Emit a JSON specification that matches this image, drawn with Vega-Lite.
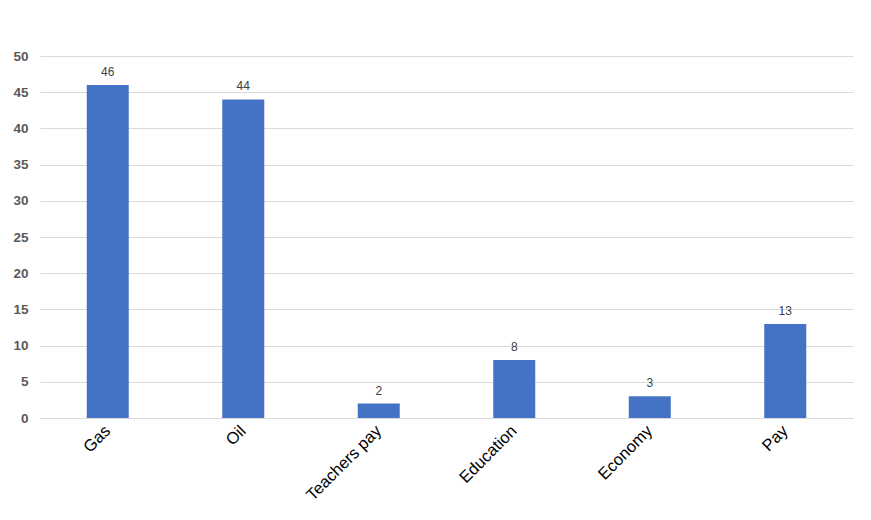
{
  "$schema": "https://vega.github.io/schema/vega-lite/v6.json",
  "width": 813,
  "height": 362,
  "autosize": "none",
  "padding": {"left": 40, "top": 56, "right": 18, "bottom": 102},
  "background": "white",
  "config": {"view": {"stroke": null}, "font": "Liberation Sans"},
  "data": {"values": [
    {"topic": "Gas", "count": 46},
    {"topic": "Oil", "count": 44},
    {"topic": "Teachers pay", "count": 2},
    {"topic": "Education", "count": 8},
    {"topic": "Economy", "count": 3},
    {"topic": "Pay", "count": 13}
  ]},
  "encoding": {
    "x": {"field": "topic", "type": "nominal", "sort": null,
      "scale": {"paddingInner": 0.69, "paddingOuter": 0.345},
      "axis": {"title": null, "labelAngle": -45, "labelAlign": "right", "labelBaseline": "middle",
        "labelFont": "Liberation Sans", "labelFontSize": 16.5, "labelColor": "#000000",
        "ticks": false, "domain": true, "domainColor": "#d9d9d9", "labelPadding": 10}},
    "y": {"field": "count", "type": "quantitative",
      "scale": {"domain": [0, 50]},
      "axis": {"title": null, "values": [0,5,10,15,20,25,30,35,40,45,50], "ticks": false, "domain": false,
        "gridColor": "#d9d9d9", "labelFont": "Liberation Sans", "labelFontSize": 13.5, "labelFontWeight": "bold",
        "labelColor": "#595959", "labelPadding": 12}}
  },
  "layer": [
    {"mark": {"type": "bar", "color": "#4472C4"}},
    {"mark": {"type": "text", "baseline": "bottom", "dy": -6, "fontSize": 12, "color": "#404040", "font": "Liberation Sans"},
      "encoding": {"text": {"field": "count", "type": "quantitative"}}}
  ]
}
